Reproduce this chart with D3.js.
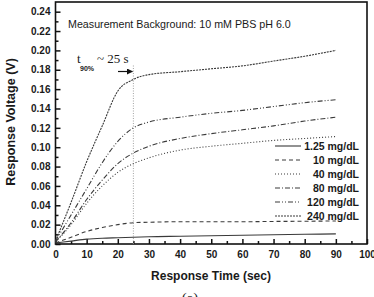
<!DOCTYPE html>
<html><head><meta charset="utf-8">
<script src="https://cdn.jsdelivr.net/npm/d3@7"></script>
<style>
html,body{margin:0;padding:0;background:#fff;}
svg{display:block;}
text{font-family:"Liberation Sans",Arial,sans-serif;fill:#1a1a1a;}
</style></head>
<body><svg id="c" width="374" height="297"></svg>
<script>
// ---- data ----
const times = [0, 5, 10, 15, 20, 25, 30, 40, 50, 60, 70, 80, 90];
const s1_25 = [0.001, 0.003, 0.005, 0.006, 0.0065, 0.007, 0.0075, 0.008, 0.0085, 0.009, 0.0095, 0.010, 0.0105];
const s10   = [0.001, 0.007, 0.013, 0.017, 0.020, 0.022, 0.0225, 0.023, 0.023, 0.023, 0.0233, 0.0235, 0.0238];
const s40   = [0.002, 0.020, 0.042, 0.060, 0.074, 0.083, 0.089, 0.097, 0.101, 0.104, 0.107, 0.109, 0.111];
const s80   = [0.002, 0.022, 0.046, 0.066, 0.083, 0.094, 0.101, 0.109, 0.114, 0.118, 0.122, 0.127, 0.131];
const s120  = [0.003, 0.030, 0.057, 0.084, 0.106, 0.120, 0.126, 0.131, 0.135, 0.138, 0.142, 0.146, 0.149];
const s240  = [0.003, 0.043, 0.085, 0.122, 0.158, 0.170, 0.175, 0.178, 0.181, 0.184, 0.189, 0.194, 0.200];
const seriesNames = ["1.25 mg/dL", "10 mg/dL", "40 mg/dL", "80 mg/dL", "120 mg/dL", "240 mg/dL"];
const seriesValues = [s1_25, s10, s40, s80, s120, s240];
const xTicks = [0, 10, 20, 30, 40, 50, 60, 70, 80, 90, 100];
const xMinor = [5, 15, 25, 35, 45, 55, 65, 75, 85, 95];
const yTicks = [0, 0.02, 0.04, 0.06, 0.08, 0.10, 0.12, 0.14, 0.16, 0.18, 0.20, 0.22, 0.24];
const yMinor = [0.01, 0.03, 0.05, 0.07, 0.09, 0.11, 0.13, 0.15, 0.17, 0.19, 0.21, 0.23];
const t90 = 25;
const t90Top = 0.185;

// ---- styles ----
const dashes = [null, "4,3", "1,2", "5,2,1,2", "5,2,1,2,1,2", "2,1"];

const svg = d3.select("#c");
const x = d3.scaleLinear().domain([0, 100]).range([55.5, 367]);
const y = d3.scaleLinear().domain([0, 0.25]).range([244, 2]);

// frame
svg.append("rect").attr("x", x(0)).attr("y", y(0.25))
  .attr("width", x(100) - x(0)).attr("height", y(0) - y(0.25))
  .attr("fill", "none").attr("stroke", "#111").attr("stroke-width", 1.6);

// axes
const yAxis = svg.append("g").attr("transform", `translate(${x(0)},0)`)
  .call(d3.axisLeft(y).tickValues(yTicks).tickFormat(d3.format(".2f")).tickSize(-5).tickPadding(5));
const yAxisMinor = svg.append("g").attr("transform", `translate(${x(0)},0)`)
  .call(d3.axisLeft(y).tickValues(yMinor).tickFormat("").tickSize(-3));
const xAxis = svg.append("g").attr("transform", `translate(0,${y(0)})`)
  .call(d3.axisBottom(x).tickValues(xTicks).tickFormat(d3.format("d")).tickSize(-5).tickPadding(7));
const xAxisMinor = svg.append("g").attr("transform", `translate(0,${y(0)})`)
  .call(d3.axisBottom(x).tickValues(xMinor).tickFormat("").tickSize(-3));
[yAxis, yAxisMinor, xAxis, xAxisMinor].forEach(g => {
  g.select(".domain").remove();
  g.selectAll(".tick line").attr("stroke", "#111").attr("stroke-width", 1.5);
  g.selectAll(".tick text").attr("font-size", 10).attr("font-weight", "bold").attr("fill", "#1a1a1a");
});

// t90 marker line
svg.append("line").attr("x1", x(t90)).attr("x2", x(t90)).attr("y1", y(0)).attr("y2", y(t90Top))
  .attr("stroke", "#999").attr("stroke-width", 0.9).attr("stroke-dasharray", "1,1.5");

// curves
const line = d3.line().x((d, i) => x(times[i])).y(d => y(d)).curve(d3.curveMonotoneX);
seriesValues.forEach((vals, k) => {
  svg.append("path").datum(vals).attr("d", line)
    .attr("fill", "none").attr("stroke", "#3a3a3a").attr("stroke-width", 1.1)
    .attr("stroke-dasharray", dashes[k]);
});

// legend
const legY0 = 146, legDy = 14;
seriesNames.forEach((name, k) => {
  const yy = legY0 + k * legDy;
  svg.append("line").attr("x1", 275).attr("x2", 301).attr("y1", yy).attr("y2", yy)
    .attr("stroke", "#3a3a3a").attr("stroke-width", 1.1).attr("stroke-dasharray", dashes[k]);
  svg.append("text").attr("x", 359).attr("y", yy + 3.6).attr("text-anchor", "end")
    .attr("font-size", 10.5).attr("font-weight", "bold").text(name);
});

// header text
svg.append("text").attr("x", 68).attr("y", 28).attr("font-size", 10.7)
  .text("Measurement Background: 10 mM PBS pH 6.0");

// t90 annotation
svg.append("text").attr("x", 77).attr("y", 63)
  .style("font-family", "'Liberation Serif','Times New Roman',serif").attr("font-size", 13).text("t");
svg.append("text").attr("x", 80).attr("y", 71).attr("font-size", 7).attr("font-weight", "bold").text("90%");
svg.append("text").attr("x", 97).attr("y", 63)
  .style("font-family", "'Liberation Serif','Times New Roman',serif").attr("font-size", 13).text("~ 25 s");
// arrow
svg.append("defs").append("marker").attr("id", "ah").attr("viewBox", "0 0 10 10")
  .attr("refX", 9).attr("refY", 5).attr("markerWidth", 5).attr("markerHeight", 5).attr("orient", "auto")
  .append("path").attr("d", "M0,0L10,5L0,10z").attr("fill", "#111");
svg.append("line").attr("x1", 118).attr("x2", x(t90) - 1).attr("y1", 71.5).attr("y2", 71.5)
  .attr("stroke", "#111").attr("stroke-width", 1.2).attr("marker-end", "url(#ah)");

// axis titles
svg.append("text").attr("x", 211).attr("y", 280).attr("text-anchor", "middle")
  .attr("font-size", 12).attr("font-weight", "bold").text("Response Time (sec)");
svg.append("text").attr("transform", "translate(15,122) rotate(-90)").attr("text-anchor", "middle")
  .attr("font-size", 12.5).attr("font-weight", "bold").text("Response Voltage (V)");
svg.append("text").attr("x", 190).attr("y", 303).attr("text-anchor", "middle")
  .style("font-family", "'Liberation Serif','Times New Roman',serif").attr("font-size", 15).text("(a)");
</script></body></html>
